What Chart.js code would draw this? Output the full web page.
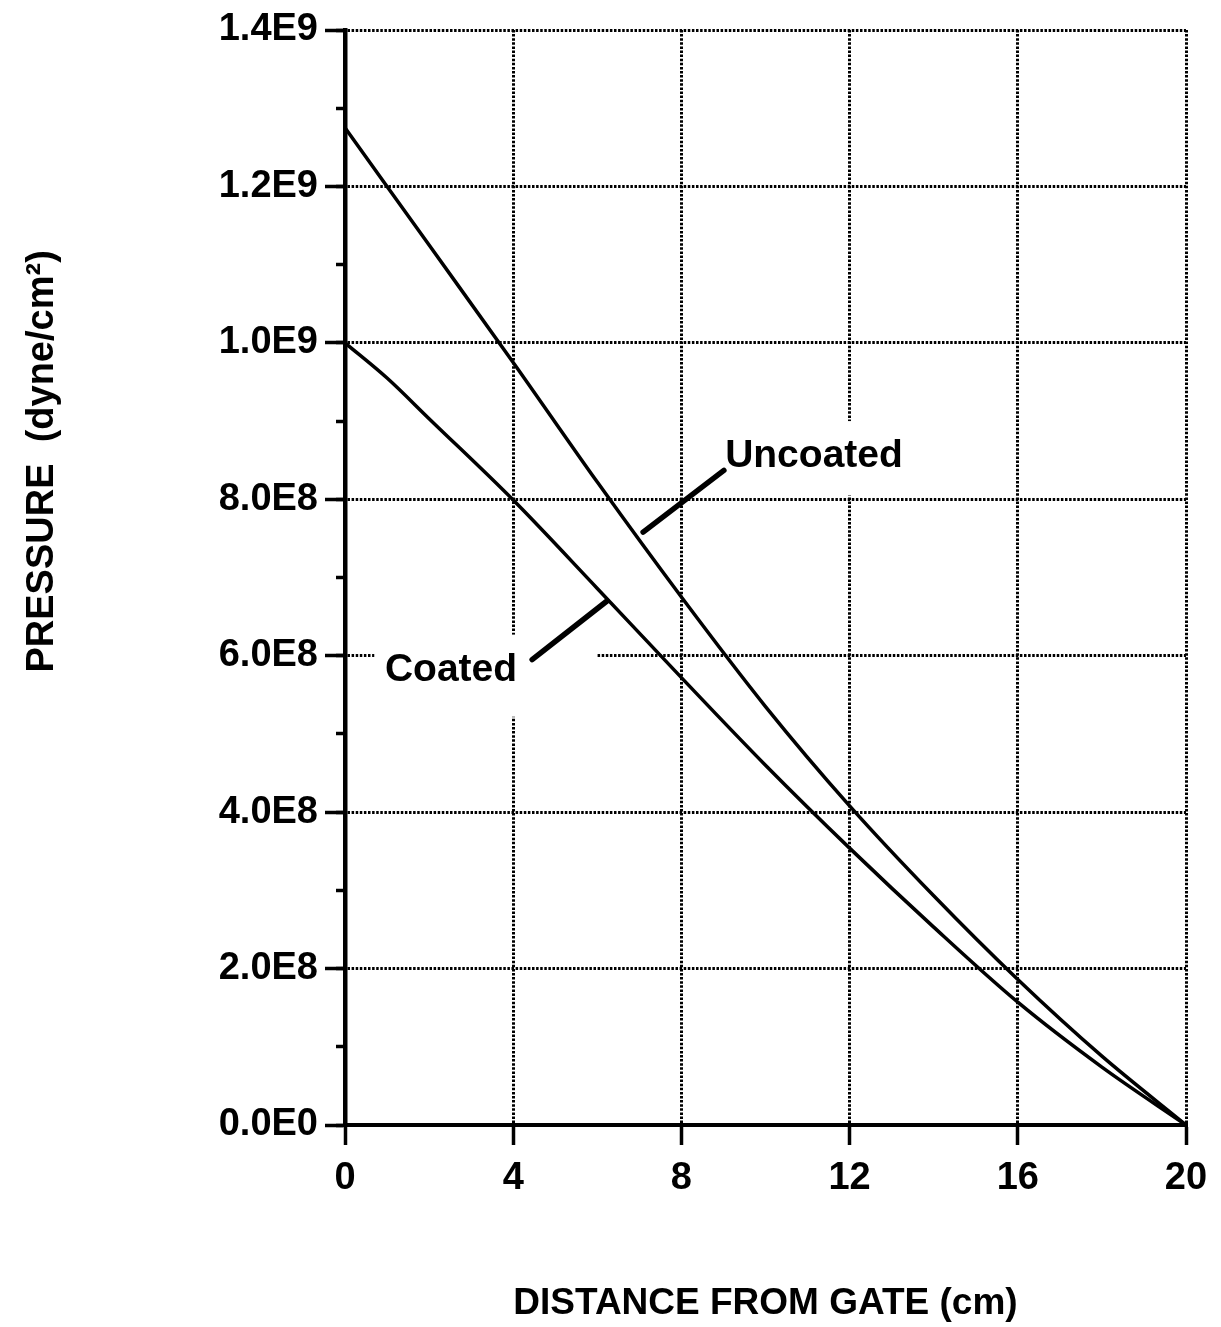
<!DOCTYPE html>
<html>
<head>
<meta charset="utf-8">
<script src="https://cdn.jsdelivr.net/npm/chart.js@4.4.1/dist/chart.umd.min.js"></script>
<style>
    body { margin: 0; background: #fff; }
    canvas { display: block; }
</style>
</head>
<body>
<canvas id="myChart" width="1221" height="1327"></canvas>
<script>
    // 距離 (cm) 與壓力 (dyne/cm2)
    const distance = [0, 1, 2, 4, 6, 8, 10, 12, 14, 16, 18, 20];
    const uncoated = [1.275e9, 1.2e9, 1.125e9, 0.975e9, 0.822e9, 0.675e9, 0.535e9, 0.408e9, 0.293e9, 0.186e9, 0.088e9, 0];
    const coated = [1.0e9, 0.955e9, 0.903e9, 0.799e9, 0.686e9, 0.572e9, 0.46e9, 0.354e9, 0.253e9, 0.157e9, 0.074e9, 0];
    const xTicks = [0, 4, 8, 12, 16, 20];
    const yTicks = ['0.0E0', '2.0E8', '4.0E8', '6.0E8', '8.0E8', '1.0E9', '1.2E9', '1.4E9'];

    const font = "'Liberation Sans', Arial, Helvetica, sans-serif";
    const black = '#000';

    // 標註文字 + 引線 (資料座標)
    const notes = [
        { text: 'Uncoated', at: [9.04, 8.41e8], line: [[7.09, 7.58e8], [9.01, 8.37e8]], box: [8.8, 9.0e8, 13.45, 8.05e8] },
        { text: 'Coated', at: [0.95, 5.68e8], line: [[4.45, 5.95e8], [6.23, 6.70e8]], box: [0.7, 6.27e8, 5.99, 5.22e8] }
    ];

    const notePlugin = {
        id: 'notes',
        beforeDatasetsDraw(chart) {
            const { ctx, scales: { x, y } } = chart;
            ctx.save();
            ctx.fillStyle = '#fff';
            notes.forEach(function (n) {
                const x1 = x.getPixelForValue(n.box[0]), y1 = y.getPixelForValue(n.box[1]);
                const x2 = x.getPixelForValue(n.box[2]), y2 = y.getPixelForValue(n.box[3]);
                ctx.fillRect(x1, y1, x2 - x1, y2 - y1);
            });
            ctx.restore();
        },
        afterDatasetsDraw(chart) {
            const { ctx, scales: { x, y } } = chart;
            ctx.save();
            ctx.fillStyle = black;
            ctx.strokeStyle = black;
            ctx.lineWidth = 5.5;
            ctx.lineCap = 'round';
            ctx.font = 'bold 39px ' + font;
            ctx.textBaseline = 'alphabetic';
            notes.forEach(function (n) {
                ctx.fillText(n.text, x.getPixelForValue(n.at[0]), y.getPixelForValue(n.at[1]));
                ctx.beginPath();
                ctx.moveTo(x.getPixelForValue(n.line[0][0]), y.getPixelForValue(n.line[0][1]));
                ctx.lineTo(x.getPixelForValue(n.line[1][0]), y.getPixelForValue(n.line[1][1]));
                ctx.stroke();
            });
            ctx.restore();
        }
    };

    var ctx1 = document.getElementById('myChart');
    var myChart = new Chart(ctx1, {
        type: 'line',
        data: {
            datasets: [{
                label: 'Uncoated',
                data: distance.map((d, i) => ({ x: d, y: uncoated[i] })),
                borderColor: black,
                borderWidth: 3.5,
                pointRadius: 0,
                cubicInterpolationMode: 'monotone'
            }, {
                label: 'Coated',
                data: distance.map((d, i) => ({ x: d, y: coated[i] })),
                borderColor: black,
                borderWidth: 3.5,
                pointRadius: 0,
                cubicInterpolationMode: 'monotone'
            }]
        },
        options: {
            responsive: false,
            animation: false,
            layout: { padding: { top: 30, right: 35, left: 0, bottom: 0 } },
            plugins: { legend: { display: false }, tooltip: { enabled: false } },
            scales: {
                x: {
                    type: 'linear',
                    min: 0,
                    max: 20,
                    afterBuildTicks: (s) => { s.ticks = xTicks.map(v => ({ value: v })); },
                    ticks: { color: black, font: { family: font, size: 38, weight: 'bold' }, padding: 11, maxRotation: 0, autoSkip: false },
                    grid: { color: black, lineWidth: 3, tickLength: 20, tickColor: black, tickWidth: 3.5 },
                    border: { color: black, width: 4, dash: [2.5, 1.6] },
                    title: { display: true, text: 'DISTANCE FROM GATE (cm)', color: black, font: { family: font, size: 37, weight: 'bold' }, padding: { top: 0, bottom: 1 } },
                    afterFit: (s) => { s.height = 202; }
                },
                y: {
                    type: 'linear',
                    min: 0,
                    max: 1.4e9,
                    afterBuildTicks: (s) => { s.ticks = yTicks.map((t, i) => ({ value: i * 2e8 })); },
                    ticks: { color: black, font: { family: font, size: 38, weight: 'bold' }, padding: 7, callback: (v, i) => yTicks[i] },
                    grid: { color: black, lineWidth: 3, tickLength: 20, tickColor: black, tickWidth: 3.5 },
                    border: { color: black, width: 4.5, dash: [2.5, 1.6] },
                    title: { display: true, text: '                      PRESSURE  (dyne/cm²)', color: black, font: { family: font, size: 38, weight: 'bold' }, padding: { top: 20, bottom: 0 } },
                    afterFit: (s) => { s.width = 345; }
                },
                yMinor: {
                    type: 'linear',
                    position: 'left',
                    weight: -1,
                    min: 0,
                    max: 1.4e9,
                    ticks: { display: false, stepSize: 1e8 },
                    grid: { drawOnChartArea: false, tickLength: 9, tickColor: black, tickWidth: 3.5 },
                    border: { display: false },
                    afterFit: (s) => { s.width = 0; }
                }
            }
        },
        plugins: [notePlugin]
    });
</script>
</body>
</html>
